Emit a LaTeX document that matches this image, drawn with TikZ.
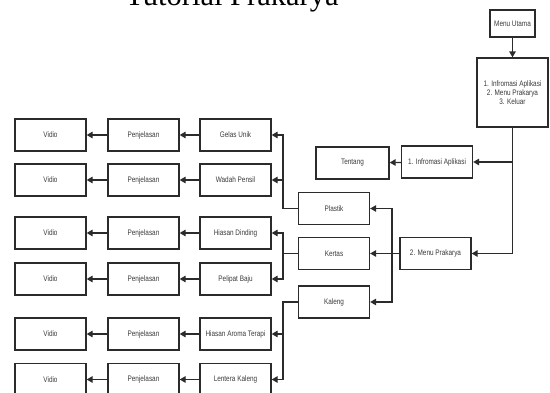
\documentclass[tikz,border=0pt]{standalone}
\usepackage{fontspec}
\setmainfont{Liberation Serif}
\newfontfamily\kotakfont[FakeStretch=0.8]{Liberation Sans}
\usepackage{tikz}
\usetikzlibrary{arrows.meta,positioning}
\definecolor{garisgelap}{HTML}{2B2B2B}
\definecolor{teksabu}{HTML}{3A3A3A}

\tikzset{
  kotak/.style={draw=garisgelap,line width=1.3pt,minimum width=71pt,minimum height=32pt,inner sep=0pt,
    font=\kotakfont\fontsize{8}{9}\selectfont,text=teksabu,fill=white},
  panah/.style={draw=garisgelap,line width=1.3pt,-{Triangle[length=6pt,width=6.5pt]}},
  garis/.style={draw=garisgelap,line width=1.3pt}
}

\begin{document}
\begin{tikzpicture}[x=1pt,y=-1pt]
  \useasboundingbox (0,0) rectangle (550,392);
  \clip (0,0) rectangle (550,392);
  \node[anchor=base,font=\fontsize{30.5}{32}\selectfont] (judul) at (232,5) {Tutorial Prakarya};
  % menu utama
  \node[kotak,minimum width=45pt,minimum height=27pt] (menuutama) at (512.5,23.5) {Menu Utama};
  \node[kotak,minimum height=69pt,align=center] (pilihan) at (512.5,92.5) {1. Infromasi Aplikasi\\2. Menu Prakarya\\3. Keluar};
  \node[kotak] (infoapp) at (437,162) {1. Infromasi Aplikasi};
  \node[kotak,minimum width=73pt] (tentang) at (352.5,163) {Tentang};
  \node[kotak] (prakarya) at (435.5,253.5) {2. Menu Prakarya};
  \draw[panah] (menuutama) -- (pilihan);
  \draw[panah] (pilihan.south) |- (infoapp.east);
  \draw[panah] (pilihan.south) |- (prakarya.east);
  \draw[panah] (infoapp) -- (tentang);
  % bahan
  \node[kotak] (plastik) at (334,208.5) {Plastik};
  \node[kotak] (kertas) at (334,253.5) {Kertas};
  \node[kotak] (kaleng) at (334,302) {Kaleng};
  \coordinate (cabbahan) at (392,253.5);
  \draw[panah] (prakarya) -- (kertas);
  \draw[panah] (cabbahan) |- (plastik.east);
  \draw[panah] (cabbahan) |- (kaleng.east);
  % kerajinan
  \foreach \nm/\yy/\txt in {gelas/135/Gelas Unik,wadah/180/Wadah Pensil,dinding/233/Hiasan Dinding,
    pelipat/279/Pelipat Baju,aroma/334/Hiasan Aroma Terapi,lentera/379.5/Lentera Kaleng}{
    \node[kotak] (\nm) at (235.5,\yy) {\txt};
    \node[kotak] (pj\nm) at (143.5,\yy) {Penjelasan};
    \node[kotak] (vd\nm) at (50.5,\yy) {Vidio};
    \draw[panah] (\nm) -- (pj\nm);
    \draw[panah] (pj\nm) -- (vd\nm);
  }
  \foreach \src/\ka/\kb in {plastik/gelas/wadah,kertas/dinding/pelipat,kaleng/aroma/lentera}{
    \draw[panah] (\src.west) -- ++(-15,0) |- (\ka.east);
    \draw[panah] (\src.west) -- ++(-15,0) |- (\kb.east);
  }
\end{tikzpicture}
\end{document}
